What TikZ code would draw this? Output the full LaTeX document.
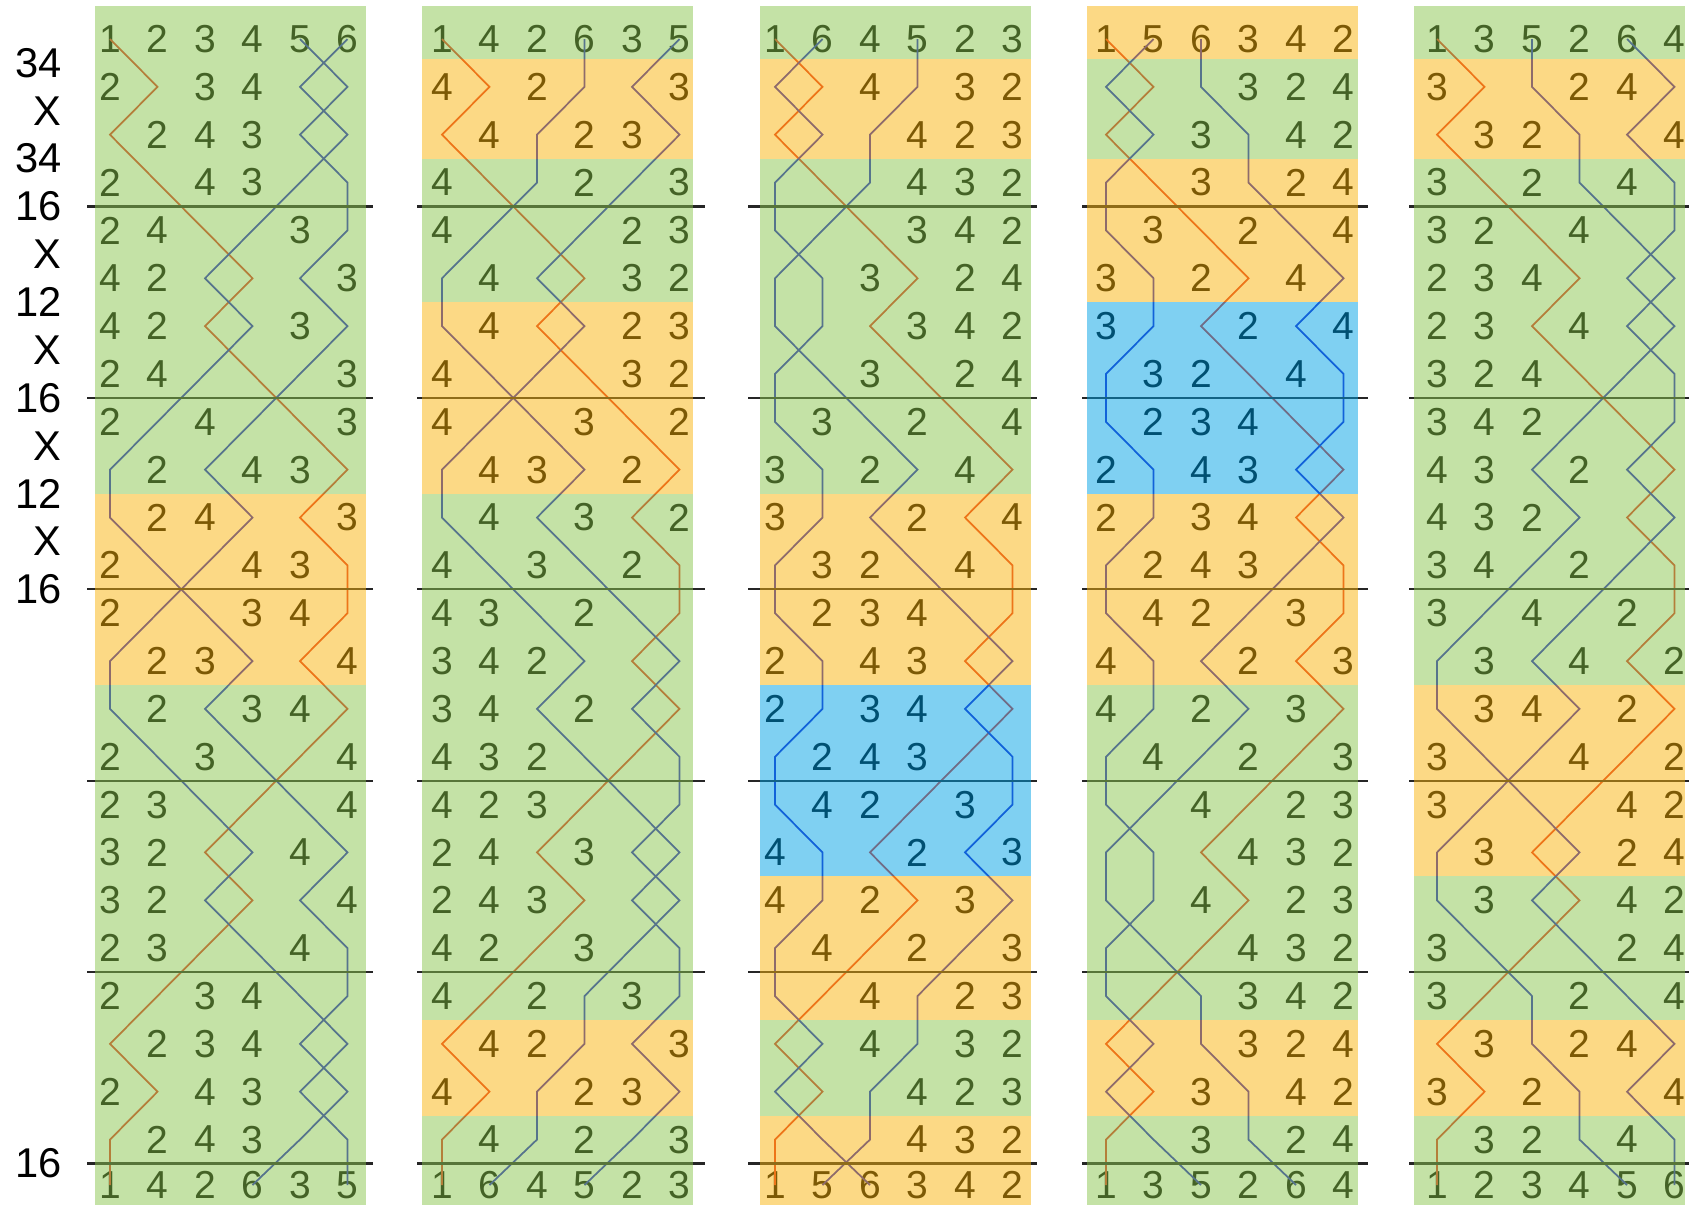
\documentclass[tikz,border=0pt]{standalone}
\usepackage{fontspec}
\setmainfont{Liberation Sans}
\definecolor{bandgreen}{RGB}{137,197,77}
\definecolor{bandorange}{RGB}{249,179,11}
\definecolor{bandblue}{RGB}{0,161,229}
\definecolor{treblered}{RGB}{225,55,40}
\definecolor{tenorblue}{RGB}{35,35,205}
% rows of the five leads
\def\leadi{123456,213465,124356,214365,241635,426153,421635,246153,264513,625431,624513,265431,256341,
523614,526341,253614,235164,321546,325164,231546,213456,123465,214356,124365,142635}
\def\leadii{142635,412653,146235,416253,461523,645132,641523,465132,456312,543621,546312,453621,435261,
342516,345261,432516,423156,241365,243156,421365,412635,142653,416235,146253,164523}
\def\leadiii{164523,614532,165423,615432,651342,563124,561342,653124,635214,362541,365214,632541,623451,
264315,263451,624315,642135,461253,462135,641253,614523,164532,615423,165432,156342}
\def\leadiv{156342,516324,153642,513624,531264,352146,351264,532146,523416,254361,253416,524361,542631,
456213,452631,546213,564123,651432,654123,561432,516342,156324,513642,153624,135264}
\def\leadv{135264,315246,132564,312546,321456,234165,231456,324165,342615,436251,432615,346251,364521,
635412,634521,365412,356142,531624,536142,351624,315264,135246,312564,132546,123456}
\def\splitrow#1#2#3#4#5#6{\def\rowlist{#1,#2,#3,#4,#5,#6}}
\begin{document}
\begin{tikzpicture}[x=0.02cm,y=-0.02cm,
  bell/.style={font=\fontsize{22.2}{26}\selectfont,inner sep=0pt,text=black},
  chg/.style={font=\fontsize{23.7}{28}\selectfont,inner sep=0pt,anchor=east},
  bellpath/.style={line width=1pt,line join=miter},
  rule/.style={line width=1.3pt,black!85},
  band/.style={fill opacity=0.5}]
\useasboundingbox (0,0) rectangle (1689,1205);
% place notation
\foreach \k/\pn in {1/34,2/X,3/34,4/16,5/X,6/12,7/X,8/16,9/X,10/12,11/X,12/16,24/16}
  \node[chg] (pn\k) at (62,{39+47.85*(\k-0.5)}) {\pn};
% leads
\foreach \col/\xd in {1/110,2/442,3/775,4/1106,5/1437}{
  \expandafter\let\expandafter\rows\csname lead\romannumeral\col\endcsname
  \foreach \row [count=\rw from 0] in \rows {
    \pgfmathsetmacro\yy{\rw==24 ? 1185 : 39+47.85*\rw}
    \expandafter\splitrow\row
    \foreach \bl [count=\pos] in \rowlist {
      \coordinate (c\col-\rw-\bl) at ({\xd+47.5*(\pos-1)},\yy);
      \def\shown{0}
      \ifnum\rw=0 \def\shown{1}\fi
      \ifnum\rw=24 \def\shown{1}\fi
      \ifnum\bl>1 \ifnum\bl<5 \def\shown{1}\fi\fi
      \ifnum\shown=1 \node[bell] (d\col-\rw-\pos) at (c\col-\rw-\bl) {\bl};\fi
    }
  }
  \foreach \bl/\lc in {1/treblered,5/tenorblue,6/tenorblue}
    \draw[bellpath,\lc] (c\col-0-\bl) \foreach \rw in {1,...,24}{ -- (c\col-\rw-\bl)};
}
% lead lines
\foreach \col/\la/\lb in {1/87/373,2/417/705,3/748/1037,4/1082/1368,5/1409/1689}
  \foreach \k in {1,...,6}
    \draw[rule] (\la,{39+47.85*(4*\k-0.5)}) -- (\lb,{39+47.85*(4*\k-0.5)});
% bands
\foreach \col/\ra/\rb/\bc in {1/0/9/bandgreen,1/10/13/bandorange,1/14/24/bandgreen,
  2/0/0/bandgreen,2/1/2/bandorange,2/3/5/bandgreen,2/6/9/bandorange,2/10/20/bandgreen,2/21/22/bandorange,2/23/24/bandgreen,
  3/0/0/bandgreen,3/1/2/bandorange,3/3/9/bandgreen,3/10/13/bandorange,3/14/17/bandblue,3/18/20/bandorange,3/21/22/bandgreen,3/23/24/bandorange,
  4/0/0/bandorange,4/1/2/bandgreen,4/3/5/bandorange,4/6/9/bandblue,4/10/13/bandorange,4/14/20/bandgreen,4/21/22/bandorange,4/23/24/bandgreen,
  5/0/0/bandgreen,5/1/2/bandorange,5/3/13/bandgreen,5/14/17/bandorange,5/18/20/bandgreen,5/21/22/bandorange,5/23/24/bandgreen}{
  \pgfmathsetmacro\bx{{95,422,760,1087,1414}[\col-1]}
  \pgfmathsetmacro\yt{\ra==0 ? 6 : (\ra==1 ? 59 : 39+47.85*(\ra-0.5))}
  \pgfmathsetmacro\yb{\rb==24 ? 1205 : (\rb==0 ? 59 : 39+47.85*(\rb+0.5))}
  \fill[band,\bc] (\bx,\yt) rectangle ({\bx+271},\yb);
}
\end{tikzpicture}
\end{document}
